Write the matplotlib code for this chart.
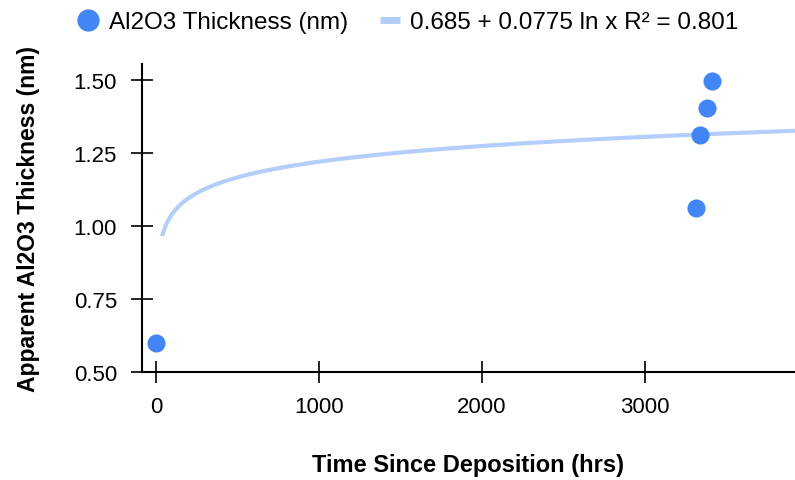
import numpy as np
import matplotlib.pyplot as plt
from matplotlib.lines import Line2D

plt.rcParams['font.family'] = ['Liberation Sans', 'DejaVu Sans']

# measured data
hours = [0, 3313, 3337, 3380, 3411]
thickness = [0.60, 1.062, 1.312, 1.404, 1.497]

# log fit shown in the legend
fit_a = 0.685
fit_b = 0.0775
fit_r2 = 0.801
fit_start = 37
fit_end = 3920

fig = plt.figure(figsize=(7.95, 4.81), dpi=100)
ax = fig.add_axes([142 / 795, 1 - 373 / 481, 653 / 795, 308 / 481])

xs = np.linspace(fit_start, fit_end, 400)
ax.plot(xs, fit_a + fit_b * np.log(xs), color='#4285F4', alpha=0.4, lw=3,
        solid_capstyle='butt', zorder=2)
ax.scatter(hours, thickness, s=170, color='#4285F4', zorder=3, linewidths=0)

ax.set_xlim(-86, 3920)
ax.set_ylim(0.5, 1.555)
ax.set_xticks([0, 1000, 2000, 3000])
ax.set_yticks([0.5, 0.75, 1.0, 1.25, 1.5])
ax.set_yticklabels(['0.50', '0.75', '1.00', '1.25', '1.50'])
for s in ['top', 'right']:
    ax.spines[s].set_visible(False)
for s in ['left', 'bottom']:
    ax.spines[s].set_linewidth(1.5)
ax.tick_params(direction='inout', length=16, width=1.2, labelsize=16, colors='black')
ax.tick_params(axis='y', pad=10)
ax.tick_params(axis='x', pad=9)

ax.set_xlabel('Time Since Deposition (hrs)', fontsize=17, fontweight='bold', labelpad=26)
ax.set_ylabel('Apparent Al2O3 Thickness (nm)', fontsize=16.5, fontweight='bold', labelpad=24)

handles = [
    Line2D([], [], ls='', marker='o', ms=16, color='#4285F4', mec='none'),
    Line2D([], [], color='#4285F4', alpha=0.4, lw=5, solid_capstyle='butt'),
]
labels = ['Al2O3 Thickness (nm)',
          f'{fit_a} + {fit_b} ln x R\u00b2 = {fit_r2}']
fig.legend(handles, labels, loc='center left', bbox_to_anchor=(78 / 795, 1 - 23 / 481),
           ncol=2, frameon=False, fontsize=17.5, handlelength=0.85,
           handletextpad=0.42, columnspacing=1.3, borderpad=0, borderaxespad=0)

fig.savefig('out.png', dpi=100)
